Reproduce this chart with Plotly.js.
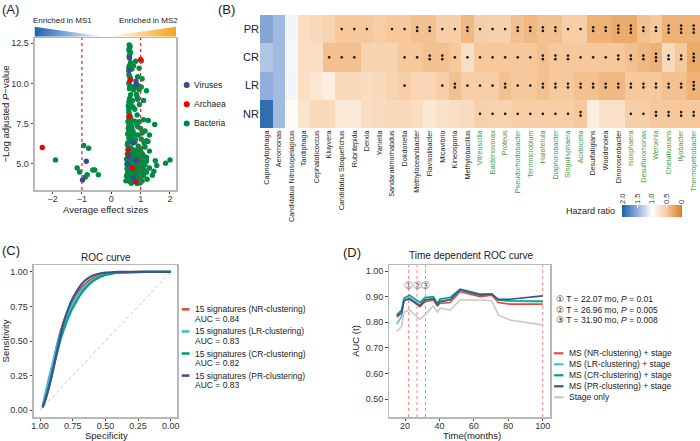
<!DOCTYPE html>
<html>
<head>
<meta charset="utf-8">
<script src="https://cdn.plot.ly/plotly-3.0.1.min.js"></script>
<style>
html,body{margin:0;padding:0;background:#ffffff;}
#chart{width:700px;height:441px;}
</style>
</head>
<body>
<div id="chart"></div>
<script>
// ================= Panel A : volcano =================
const taxa = ['Viruses', 'Archaea', 'Bacteria'];
const taxaColors = ['#3B4992', '#EE0000', '#008B45'];
const effectCutoffs = [-1, 1];

const virusX = [-0.85, -0.98, 0.62, 0.60, 0.84, 0.85, 0.74, 0.60, 0.57, 0.85, 0.75];
const virusY = [5.17, 4.00, 11.58, 10.80, 10.15, 9.96, 6.30, 5.45, 5.00, 5.22, 4.12];

const archaeaX = [-2.35, 1.00, 0.64, 0.60, 0.57, 0.72, 0.82, 0.58];
const archaeaY = [6.02, 11.50, 10.20, 7.95, 5.90, 4.75, 3.90, 5.55];

const bacteriaX = [
  -1.90, -0.94, -0.77, -1.16, -1.08, -0.82, -0.89, -0.63, -0.56, -0.44,
  0.61, 0.64, 0.62, 0.60, 0.65, 0.63, 0.61, 0.66, 0.62, 0.60, 0.64, 0.60, 0.63, 0.66, 0.60,
  0.63, 0.70, 0.62, 0.86, 0.95, 1.02, 1.20, 0.76, 0.86, 0.88, 0.90, 0.60, 0.58, 0.66, 0.80,
  0.76, 0.83, 1.02, 0.95, 0.70, 0.90, 1.05, 0.92, 0.66, 0.62, 0.72, 1.10, 0.96, 0.60, 0.74,
  0.60, 0.62, 0.65, 0.60, 0.70, 0.57, 0.63, 0.66, 0.60, 0.70, 0.58, 0.64, 0.60, 0.70, 0.56,
  0.66, 0.60, 0.75, 0.80, 0.85, 0.90, 0.88, 0.95, 1.10, 1.26, 1.48, 1.00, 1.05, 0.90, 1.15,
  1.30, 0.82, 1.02, 1.12, 1.20, 0.80, 0.74, 0.78, 0.68, 0.62, 0.56, 0.92,
  0.55, 0.60, 0.66, 0.72, 0.58, 0.64, 0.80, 0.90, 1.00, 1.15, 1.30, 1.25,
  0.55, 0.62, 0.70, 0.78, 0.88, 0.96, 1.05,
  0.58, 0.66, 0.74, 0.84, 0.92, 1.10, 1.20,
  0.52, 0.64, 0.70, 0.80, 0.95, 1.02, 1.50,
  0.56, 0.68, 0.76, 0.90, 1.08, 1.20, 1.85,
  0.53, 0.62, 0.72, 0.82, 0.98, 1.15, 1.55, 2.00,
  0.58, 0.66, 0.78, 0.86, 0.94, 1.04, 1.30,
  0.54, 0.62, 0.68, 0.80, 0.92, 1.12, 1.45,
  0.57, 0.64, 0.74, 0.84, 1.00, 1.20,
  0.55, 0.70, 0.78, 0.90, 1.06, 1.40,
  0.52, 0.60, 0.68, 0.82, 0.96, 1.10,
  0.58, 0.66, 0.86, 1.00, 1.22,
  0.50, 0.62, 0.74, 0.92, 1.05,
  0.68, 0.88, 0.98
];
const bacteriaY = [
  5.25, 6.15, 5.98, 4.75, 4.50, 4.33, 4.18, 4.62, 4.62, 4.33,
  12.40, 12.32, 12.20, 12.08, 11.95, 11.82, 11.70, 11.30, 11.12, 10.98, 10.88, 10.55, 10.42, 10.28, 10.02,
  9.86, 9.80, 9.68, 9.75, 9.62, 9.78, 9.55, 9.60, 9.32, 9.18, 9.02, 8.85, 8.62, 8.78, 8.40,
  11.10, 11.38, 11.42, 10.95, 10.90, 10.42, 10.30, 9.86, 9.30, 9.05, 8.95, 8.95, 8.70, 8.40, 8.55,
  8.22, 8.05, 7.92, 7.76, 7.70, 7.62, 7.55, 7.45, 7.36, 7.30, 7.20, 7.10, 7.00, 6.95, 6.86,
  6.80, 6.62, 6.52, 7.65, 7.50, 7.32, 8.05, 7.62, 7.75, 7.70, 7.45, 7.20, 6.92, 6.80, 7.05,
  6.80, 6.50, 6.55, 6.30, 6.45, 6.35, 7.05, 6.85, 6.60, 6.40, 6.30, 6.10,
  6.20, 6.05, 6.00, 5.90, 5.80, 5.72, 5.85, 5.80, 5.95, 6.05, 5.80, 6.40,
  5.62, 5.58, 5.64, 5.55, 5.60, 5.52, 5.66,
  5.44, 5.48, 5.40, 5.46, 5.42, 5.50, 5.40,
  5.30, 5.28, 5.34, 5.26, 5.32, 5.28, 5.20,
  5.14, 5.18, 5.12, 5.16, 5.10, 5.18, 5.05,
  5.00, 4.98, 5.02, 4.96, 5.00, 4.95, 4.90, 5.25,
  4.86, 4.84, 4.88, 4.82, 4.86, 4.80, 4.75,
  4.70, 4.68, 4.72, 4.66, 4.70, 4.64, 4.55,
  4.55, 4.52, 4.56, 4.50, 4.54, 4.48,
  4.40, 4.38, 4.42, 4.36, 4.40, 4.30,
  4.25, 4.22, 4.26, 4.20, 4.24, 4.28,
  4.10, 4.08, 4.12, 4.06, 4.05,
  3.95, 3.92, 3.96, 3.90, 3.94,
  3.80, 3.78, 3.82
];

// ================= Panel B : hazard-ratio heatmap =================
const clusterRows = ['PR', 'CR', 'LR', 'NR'];
const genera = ['Capnocytophaga', 'Aeromonas', 'Candidatus Nitrosopelagicus', 'Tardiphaga', 'Cephaloticoccus',
  'Kluyvera', 'Candidatus Stoquefichus', 'Rubritepida', 'Derxia', 'Yaniella', 'Sandarakinorhabdus', 'Dokdonella',
  'Methyloceanibacter', 'Flavisolibacter', 'Micavibrio', 'Kineosporia', 'Methylobacillus', 'Vitreoscilla',
  'Bacteriovorax', 'Proteus', 'Pseudorhodobacter', 'Terrimicrobium', 'Haloferula', 'Diaphorobacter',
  'Singulisphaera', 'Acidocella', 'Desulfatiglans', 'Woodsholea', 'Dinoroseobacter', 'Isosphaera',
  'Desulfuromonas', 'Wenxinia', 'Chelativorans', 'Ilyobacter', 'Thermopetrobacter'];
const generaGroup = ['k','k','k','k','k','k','k','k','k','k','k','k','k','k','k','k','k',
  'g','g','g','g','g','g','g','g','g','k','k','k','g','g','g','g','g','g'];

const hrPR = [1.55, 1.42, 1.06, 0.70, 0.65, 0.60, 0.50, 0.50, 0.50, 0.55, 0.50, 0.50, 0.45, 0.45, 0.55, 0.55,
  0.40, 0.55, 0.58, 0.58, 0.45, 0.40, 0.45, 0.45, 0.55, 0.55, 0.35, 0.35, 0.30, 0.30, 0.45, 0.50, 0.35, 0.35, 0.35];
const hrCR = [1.35, 1.42, 1.05, 0.70, 0.70, 0.45, 0.45, 0.45, 0.60, 0.60, 0.60, 0.50, 0.50, 0.45, 0.45, 0.50,
  0.70, 0.50, 0.50, 0.50, 0.50, 0.50, 0.45, 0.50, 0.50, 0.50, 0.50, 0.50, 0.50, 0.45, 0.40, 0.35, 0.65, 0.50, 0.30];
const hrLR = [1.50, 1.42, 1.06, 0.70, 0.78, 0.85, 0.65, 0.65, 0.70, 0.65, 0.60, 0.55, 0.62, 0.62, 0.55, 0.45,
  0.55, 0.55, 0.55, 0.45, 0.50, 0.50, 0.45, 0.50, 0.50, 0.45, 0.45, 0.40, 0.40, 0.50, 0.50, 0.50, 0.45, 0.45, 0.35];
const hrNR = [1.92, 1.42, 0.96, 0.75, 0.65, 0.65, 0.80, 0.80, 0.70, 0.68, 0.65, 0.65, 0.70, 0.78, 0.72, 0.70,
  0.68, 0.58, 0.60, 0.60, 0.55, 0.55, 0.55, 0.55, 0.55, 0.50, 0.85, 0.72, 0.72, 0.55, 0.55, 0.50, 0.50, 0.50, 0.50];

const sigPR = [0,0,0,0,0,0,1,1,1,0,1,1,2,2,1,1,2,1,1,1,2,2,2,2,1,1,2,2,3,3,2,2,3,3,3];
const sigCR = [0,0,0,0,0,1,1,1,0,0,0,1,1,2,2,1,1,1,1,1,1,1,2,2,2,1,1,1,2,2,2,3,2,2,3];
const sigLR = [0,0,0,0,0,0,0,0,0,0,0,1,0,0,1,2,1,1,1,2,1,1,2,2,2,2,2,2,2,2,2,2,2,2,3];
const sigNR = [0,0,0,0,0,0,0,0,0,0,0,0,0,0,0,0,0,1,1,1,1,1,1,1,1,2,0,0,0,1,1,2,2,2,2];

const hrTicks = [2, 1.5, 1, 0.5, 0];
const hrTickText = ['2.0', '1.5', '1.0', '0.5', '0'];

// ================= Panel C : ROC =================
const rocNames = ['15 signatures (NR-clustering)', '15 signatures (LR-clustering)',
  '15 signatures (CR-clustering)', '15 signatures (PR-clustering)'];
const rocAUC = ['AUC = 0.84', 'AUC = 0.83', 'AUC = 0.82', 'AUC = 0.83'];
const rocColors = ['#E64B35', '#4DBBD5', '#00A087', '#3C5488'];
const specificity = [0.98, 0.96, 0.93, 0.90, 0.87, 0.84, 0.80, 0.76, 0.72, 0.68, 0.64, 0.60, 0.55, 0.50, 0.45, 0.40, 0.30, 0.20, 0.10, 0.00];
const sensNR = [0.02, 0.10, 0.22, 0.34, 0.47, 0.58, 0.69, 0.77, 0.84, 0.89, 0.925, 0.952, 0.972, 0.985, 0.992, 0.996, 0.999, 1, 1, 1];
const sensLR = [0.03, 0.12, 0.24, 0.35, 0.47, 0.57, 0.67, 0.75, 0.82, 0.87, 0.91, 0.94, 0.965, 0.98, 0.99, 0.995, 0.999, 1, 1, 1];
const sensCR = [0.02, 0.08, 0.18, 0.30, 0.41, 0.52, 0.63, 0.72, 0.79, 0.85, 0.895, 0.93, 0.96, 0.978, 0.988, 0.994, 0.998, 1, 1, 1];
const sensPR = [0.02, 0.07, 0.17, 0.29, 0.43, 0.56, 0.69, 0.79, 0.86, 0.915, 0.95, 0.972, 0.987, 0.995, 0.998, 1, 1, 1, 1, 1];
const rocSens = [sensNR, sensLR, sensCR, sensPR];

// ================= Panel D : time-dependent ROC =================
const tdNames = ['MS (NR-clustering) + stage', 'MS (LR-clustering) + stage', 'MS (CR-clustering) + stage',
  'MS (PR-clustering) + stage', 'Stage only'];
const tdColors = ['#E64B35', '#4DBBD5', '#00A087', '#3C5488', '#C8C8C8'];
const months = [15.2, 18.0, 19.4, 22.5, 28.7, 31.6, 36.5, 38.8, 40.3, 46.2, 52.0, 63.6, 70.4, 74.2, 81.0, 100];
const aucNR = [0.820, 0.835, 0.887, 0.891, 0.861, 0.880, 0.887, 0.864, 0.874, 0.877, 0.919, 0.900, 0.906, 0.877, 0.871, 0.871];
const aucLR = [0.794, 0.822, 0.887, 0.897, 0.869, 0.890, 0.892, 0.869, 0.884, 0.890, 0.926, 0.908, 0.909, 0.887, 0.882, 0.880];
const aucCR = [0.829, 0.848, 0.894, 0.906, 0.878, 0.897, 0.900, 0.874, 0.891, 0.897, 0.929, 0.910, 0.910, 0.887, 0.884, 0.883];
const aucPR = [0.825, 0.839, 0.884, 0.891, 0.864, 0.887, 0.891, 0.868, 0.880, 0.887, 0.926, 0.906, 0.910, 0.890, 0.890, 0.903];
const aucStage = [0.764, 0.783, 0.840, 0.848, 0.812, 0.829, 0.864, 0.840, 0.855, 0.848, 0.887, 0.887, 0.884, 0.829, 0.809, 0.790];
const tdAUC = [aucNR, aucLR, aucCR, aucPR, aucStage];
const cutTimes = [22.07, 26.96, 31.90, 100];
const cutMarks = ['\u2460', '\u2461', '\u2462'];
const cutStats = ['\u2460 T = 22.07 mo, <i>P</i> = 0.01', '\u2461 T = 26.96 mo, <i>P</i> = 0.005', '\u2462 T = 31.90 mo, <i>P</i> = 0.008'];

// ================= helpers =================
const W = 700, H = 441;
const px = x => x / W;
const py = y => 1 - y / H;
const FONT = 'Liberation Sans, Arial, Helvetica, sans-serif';
const TXT = '#222222';

function boxAxis(extra) {
  return Object.assign({
    showline: true, mirror: true, linecolor: '#B8B8B8', linewidth: 1.5,
    ticks: 'outside', ticklen: 2.5, tickwidth: 1, tickcolor: '#444',
    showgrid: false, zeroline: false, fixedrange: true,
    tickfont: {size: 9, color: '#333', family: FONT}
  }, extra);
}
function ann(x, y, text, opts) {
  return Object.assign({xref: 'paper', yref: 'paper', x: px(x), y: py(y), text: text,
    showarrow: false, xanchor: 'left', yanchor: 'middle',
    font: {family: FONT, size: 8.5, color: TXT}}, opts || {});
}

const traces = [];
const shapes = [];
const annotations = [];

// ---- A traces ----
const groupsX = [virusX, archaeaX, bacteriaX];
const groupsY = [virusY, archaeaY, bacteriaY];
[2, 1, 0].forEach(i => {
  traces.push({type: 'scatter', mode: 'markers', name: taxa[i], x: groupsX[i], y: groupsY[i],
    xaxis: 'x', yaxis: 'y', marker: {color: taxaColors[i], size: 5.4}, showlegend: false, hoverinfo: 'skip'});
});
effectCutoffs.forEach(c => shapes.push({type: 'line', xref: 'x', yref: 'y domain', x0: c, x1: c, y0: 0, y1: 1,
  line: {color: '#EE2C2C', width: 1.3, dash: 'dot'}}));
// legend A
taxa.forEach((t, i) => {
  const cy = 85 + i * 19.2, cx = 186.7, r = 3;
  shapes.push({type: 'circle', xref: 'paper', yref: 'paper', x0: px(cx - r), x1: px(cx + r), y0: py(cy + r), y1: py(cy - r),
    fillcolor: taxaColors[i], line: {width: 0}});
  annotations.push(ann(192, cy, t, {font: {family: FONT, size: 8.5, color: TXT}}));
});
annotations.push(ann(105.3, 209.5, 'Average effect sizes', {xanchor: 'center', font: {family: FONT, size: 9.5, color: TXT}}));

// ---- B traces ----
const hrScale = [[0, '#DA7F22'], [0.25, '#F6C89C'], [0.5, '#FFFFFF'], [0.75, '#8FAEDA'], [1, '#1E62A9']];
const colIdx = genera.map((g, i) => i);
const rowIdx = clusterRows.map((r, i) => i);
traces.push({type: 'heatmap', xaxis: 'x2', yaxis: 'y2', x: colIdx, y: rowIdx, z: [hrPR, hrCR, hrLR, hrNR],
  colorscale: hrScale, zmin: 0, zmax: 2, showscale: false, hoverinfo: 'skip'});
const sigRows = [sigPR, sigCR, sigLR, sigNR];
const dotX = [], dotY = [];
sigRows.forEach((row, r) => row.forEach((n, c) => {
  for (let k = 0; k < n; k++) { dotX.push(c); dotY.push(r + (k - (n - 1) / 2) * 0.125); }
}));
traces.push({type: 'scatter', mode: 'markers', xaxis: 'x2', yaxis: 'y2', x: dotX, y: dotY,
  marker: {color: '#1a1a1a', size: 2.6}, showlegend: false, hoverinfo: 'skip'});
// colour key as its own small heatmap
const hrKey = [];
for (let i = 0; i <= 100; i++) hrKey.push(+(i * 0.02).toFixed(2));
traces.push({type: 'heatmap', xaxis: 'x3', yaxis: 'y3', x: hrKey, y: [0], z: [hrKey],
  colorscale: hrScale, zmin: 0, zmax: 2, showscale: false, hoverinfo: 'skip'});
annotations.push(ann(617, 211, 'Hazard ratio', {xanchor: 'right', font: {family: FONT, size: 9, color: TXT}}));
const genusTicks = genera.map((g, i) => generaGroup[i] === 'g' ? '<span style="color:#3E9B3E">' + g + '</span>' : g);

// ---- C traces ----
shapes.push({type: 'line', xref: 'x4', yref: 'y4', x0: 1, y0: 0, x1: 0, y1: 1, layer: 'below',
  line: {color: '#C4C4C4', width: 1, dash: '3px,3px'}});
rocNames.forEach((n, i) => {
  traces.push({type: 'scatter', mode: 'lines', name: n, xaxis: 'x4', yaxis: 'y4', x: specificity, y: rocSens[i],
    line: {color: rocColors[i], width: 2.2, shape: 'spline', smoothing: 0.6}, showlegend: false, hoverinfo: 'skip'});
  const ly = 309.3 + i * 22.1;
  shapes.push({type: 'line', xref: 'paper', yref: 'paper', x0: px(181.7), x1: px(189.5), y0: py(ly), y1: py(ly),
    line: {color: rocColors[i], width: 2.6}});
  annotations.push(ann(193, ly, n));
  annotations.push(ann(193, ly + 9.5, rocAUC[i]));
});
annotations.push(ann(106, 257, 'ROC curve', {xanchor: 'center', font: {family: FONT, size: 10, color: TXT}}));
annotations.push(ann(106, 435.5, 'Specificity', {xanchor: 'center', font: {family: FONT, size: 9.5, color: TXT}}));

// ---- D traces ----
cutTimes.forEach(t => shapes.push({type: 'line', xref: 'x5', yref: 'y5 domain', x0: t, x1: t, y0: 0, y1: 1, layer: 'below',
  line: {color: '#F2877C', width: 1, dash: 'dot'}}));
[4, 0, 1, 2, 3].forEach(i => {
  traces.push({type: 'scatter', mode: 'lines', name: tdNames[i], xaxis: 'x5', yaxis: 'y5', x: months, y: tdAUC[i],
    line: {color: tdColors[i], width: 1.6}, showlegend: false, hoverinfo: 'skip'});
});
tdNames.forEach((n, i) => {
  const ly = 353.3 + i * 11;
  shapes.push({type: 'line', xref: 'paper', yref: 'paper', x0: px(554), x1: px(563.5), y0: py(ly), y1: py(ly),
    line: {color: tdColors[i], width: 2.2}});
  annotations.push(ann(567, ly, n));
});
cutMarks.forEach((m, i) => annotations.push({xref: 'x5', yref: 'y5', x: cutTimes[i], y: 0.945, text: m, showarrow: false,
  xanchor: 'center', yanchor: 'middle', font: {family: 'DejaVu Sans, sans-serif', size: 10.5, color: '#777'}}));
cutStats.forEach((s, i) => annotations.push(ann(554, 299.3 + i * 10.4, s)));
annotations.push(ann(471.7, 255, 'Time dependent ROC curve', {xanchor: 'center', font: {family: FONT, size: 10, color: TXT}}));
annotations.push(ann(472, 435.5, 'Time(months)', {xanchor: 'center', font: {family: FONT, size: 9.5, color: TXT}}));

// ---- panel letters & enrichment labels ----
annotations.push(ann(0, 9, '(A)', {font: {family: FONT, size: 13, color: TXT}}));
annotations.push(ann(216, 9, '(B)', {font: {family: FONT, size: 13, color: TXT}}));
annotations.push(ann(0, 250, '(C)', {font: {family: FONT, size: 13, color: TXT}}));
annotations.push(ann(341, 252, '(D)', {font: {family: FONT, size: 13, color: TXT}}));
annotations.push(ann(62.5, 20, 'Enriched in MS1', {xanchor: 'center', font: {family: FONT, size: 8, color: TXT}}));
annotations.push(ann(148.3, 20, 'Enriched in MS2', {xanchor: 'center', font: {family: FONT, size: 8, color: TXT}}));

const wedge = "<svg xmlns='http://www.w3.org/2000/svg' width='142' height='10' viewBox='0 0 142 10' preserveAspectRatio='none'>" +
  "<defs><linearGradient id='b' x1='0' x2='1' y1='0' y2='0'><stop offset='0' stop-color='#1F62AE'/><stop offset='1' stop-color='#FFFFFF'/></linearGradient>" +
  "<linearGradient id='o' x1='0' x2='1' y1='0' y2='0'><stop offset='0' stop-color='#FFFFFF'/><stop offset='1' stop-color='#F4A51C'/></linearGradient></defs>" +
  "<polygon points='0,0 71,10 0,10' fill='url(#b)'/><polygon points='71,10 142,0 142,10' fill='url(#o)'/></svg>";

const layout = {
  width: W, height: H, margin: {l: 0, r: 0, t: 0, b: 0},
  paper_bgcolor: '#ffffff', plot_bgcolor: '#ffffff',
  font: {family: FONT, size: 9, color: TXT},
  showlegend: false,
  // A
  xaxis: boxAxis({domain: [px(34.5), px(176)], range: [-2.615, 2.205], anchor: 'y',
    tickvals: [-2, -1, 0, 1, 2], ticklabelstandoff: -3}),
  yaxis: boxAxis({domain: [py(190), py(38)], range: [3.38, 12.83], anchor: 'x',
    tickvals: [5, 7.5, 10, 12.5], ticktext: ['5.0', '7.5', '10.0', '12.5'],
    title: {text: '\u2212Log adjusted <i>P</i>\u2212value', font: {size: 9.5, color: TXT}, standoff: 4}}),
  // B heatmap
  xaxis2: {domain: [px(260), 1], range: [-0.5, 34.5], anchor: 'y2', tickmode: 'array', tickvals: colIdx,
    ticktext: genusTicks, tickangle: -90, ticks: '', showgrid: false, zeroline: false, showline: false,
    tickfont: {size: 7.2, color: TXT}, fixedrange: true},
  yaxis2: {domain: [py(128), py(15)], range: [3.5, -0.5], anchor: 'x2', tickmode: 'array', tickvals: rowIdx,
    ticktext: clusterRows, ticks: '', showgrid: false, zeroline: false, showline: false,
    tickfont: {size: 11, color: TXT}, fixedrange: true},
  // B colour key
  xaxis3: {domain: [px(622), px(682)], range: [2.01, -0.01], anchor: 'y3', side: 'top', tickmode: 'array',
    tickvals: hrTicks, ticktext: hrTickText, tickangle: -90, ticks: 'inside', ticklen: 3, tickcolor: '#ffffff',
    showgrid: false, zeroline: false, showline: false, tickfont: {size: 7.5, color: '#333'}, fixedrange: true},
  yaxis3: {domain: [py(217), py(205)], range: [-0.5, 0.5], anchor: 'x3', visible: false, fixedrange: true},
  // C
  xaxis4: boxAxis({domain: [px(33.5), px(177.3)], range: [1.05, -0.05], anchor: 'y4',
    tickvals: [1, 0.75, 0.5, 0.25, 0], ticktext: ['1.00', '0.75', '0.50', '0.25', '0.00'], ticklabelstandoff: -3}),
  yaxis4: boxAxis({domain: [py(417), py(265)], range: [-0.05, 1.05], anchor: 'x4',
    tickvals: [0, 0.25, 0.5, 0.75, 1], ticktext: ['0.00', '0.25', '0.50', '0.75', '1.00'],
    title: {text: 'Sensitivity', font: {size: 9.5, color: TXT}, standoff: 4}}),
  // D
  xaxis5: boxAxis({domain: [px(389.1), px(550)], range: [10.75, 104.25], anchor: 'y5',
    tickvals: [20, 40, 60, 80, 100], ticklabelstandoff: -3}),
  yaxis5: boxAxis({domain: [py(417), py(265)], range: [0.431, 1.0234], anchor: 'x5',
    tickvals: [0.5, 0.6, 0.7, 0.8, 0.9, 1.0], ticktext: ['0.50', '0.60', '0.70', '0.80', '0.90', '1.00'],
    title: {text: 'AUC (t)', font: {size: 9.5, color: TXT}, standoff: 4}}),
  shapes: shapes,
  annotations: annotations,
  images: [{source: 'data:image/svg+xml;charset=utf-8,' + encodeURIComponent(wedge),
    xref: 'paper', yref: 'paper', x: px(34.5), y: py(26.8), sizex: px(176) - px(34.5), sizey: 10 / H,
    xanchor: 'left', yanchor: 'top', sizing: 'stretch', layer: 'above'}]
};

Plotly.newPlot('chart', traces, layout, {displayModeBar: false, staticPlot: true});
</script>
</body>
</html>
